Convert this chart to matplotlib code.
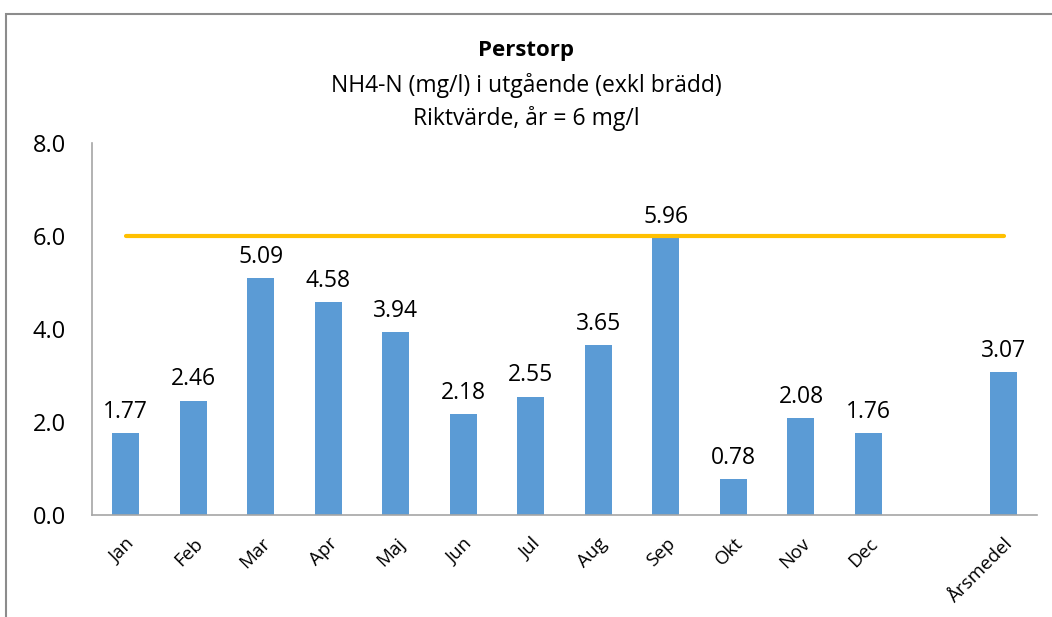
import matplotlib.pyplot as plt
from matplotlib.patches import Rectangle
import numpy as np

plt.rcParams['font.family'] = ['Open Sans', 'DejaVu Sans']

# data
months = ['Jan', 'Feb', 'Mar', 'Apr', 'Maj', 'Jun', 'Jul', 'Aug', 'Sep',
          'Okt', 'Nov', 'Dec', '', 'Årsmedel']
values = [1.77, 2.46, 5.09, 4.58, 3.94, 2.18, 2.55, 3.65, 5.96,
          0.78, 2.08, 1.76, np.nan, 3.07]
riktvarde = 6.0

fig = plt.figure(figsize=(10.52, 6.17), dpi=100)
ax = fig.add_axes([0.0875, 0.165, 0.8985, 0.603])

x = np.arange(len(months))
ax.bar(x, values, width=0.4, color='#5B9BD5', zorder=2)
ax.plot([x[0], x[-1]], [riktvarde, riktvarde], color='#FFC000', lw=3,
        solid_capstyle='round', zorder=3)

for xi, v in zip(x, values):
    if np.isnan(v):
        continue
    ax.text(xi, v + 0.2, f'{v:.2f}', ha='center', va='bottom',
            fontsize=16.5, color='black')

ax.set_xlim(-0.5, len(months) - 0.5)
ax.set_ylim(0, 8)
ax.set_yticks([0, 2, 4, 6, 8])
ax.set_yticklabels([f'{t:.1f}' for t in [0, 2, 4, 6, 8]], fontsize=17)
ax.set_xticks(x)
ax.set_xticklabels(months, rotation=45, ha='right', rotation_mode='anchor',
                   fontsize=13.5)
ax.tick_params(axis='both', length=0)
ax.tick_params(axis='x', pad=14)
ax.tick_params(axis='y', pad=19)

for s in ['top', 'right']:
    ax.spines[s].set_visible(False)
for s in ['left', 'bottom']:
    ax.spines[s].set_color('#A6A6A6')
    ax.spines[s].set_linewidth(1.2)

fig.text(0.5, 0.918, 'Perstorp', ha='center', va='center',
         fontsize=16, fontweight='bold')
fig.text(0.5, 0.862, 'NH4-N (mg/l) i utgående (exkl brädd)', ha='center',
         va='center', fontsize=16.5)
fig.text(0.5, 0.808, 'Riktvärde, år = 6 mg/l', ha='center', va='center',
         fontsize=16.5)

# chart border
fig.patches.append(Rectangle((6 / 1052, -0.1), 1.2, 0.1 + (617 - 13.5) / 617,
                             transform=fig.transFigure, fill=False,
                             edgecolor='#8C8C8C', lw=1.5))

fig.savefig('out.png', dpi=100)
